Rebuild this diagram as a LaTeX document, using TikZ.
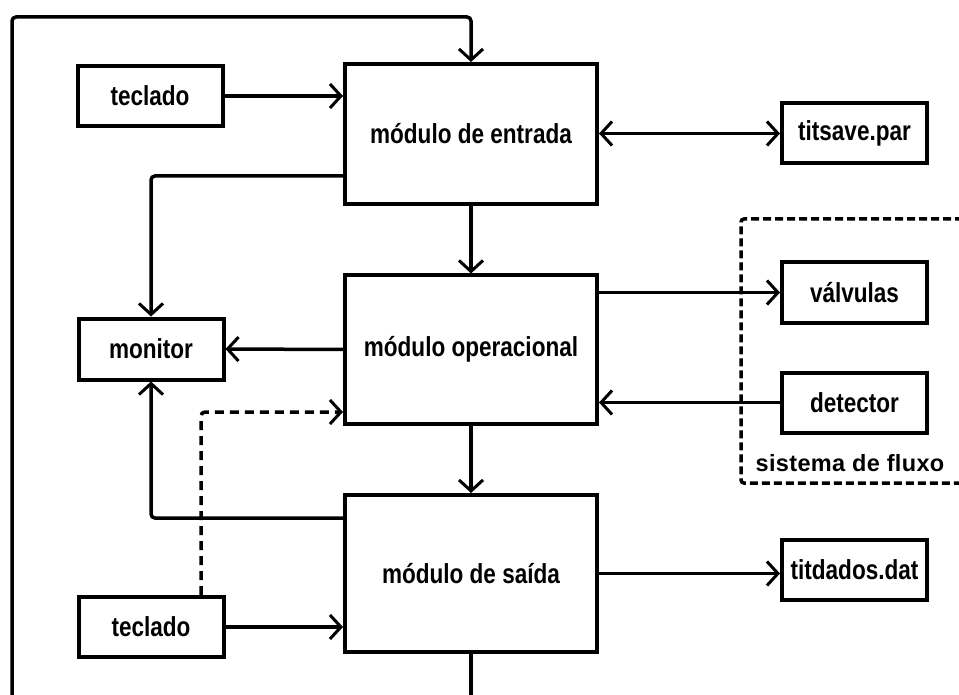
\documentclass[tikz,border=0pt]{standalone}
\usepackage{fontspec}
\setmainfont{Liberation Sans}
\newfontfamily\boxfont{Liberation Sans}[FakeStretch=0.82]
\newfontfamily\grpfont{Liberation Sans}[LetterSpace=1.5]
\usetikzlibrary{arrows.meta}
\begin{document}
\begin{tikzpicture}[x=1pt,y=-1pt,
  blk/.style={draw, line width=4pt, inner sep=0pt, font=\boxfont\bfseries\fontsize{27.5}{30}\selectfont},
  small/.style={blk, minimum width=145pt, minimum height=60pt},
  big/.style={blk, minimum width=252pt},
  conn/.style={line width=3.5pt},
  arr/.style={conn, -{Straight Barb[length=11pt,width=24pt,line width=3pt]}},
  darr/.style={conn, {Straight Barb[length=11pt,width=24pt,line width=3pt]}-{Straight Barb[length=11pt,width=24pt,line width=3pt]}},
  dsh/.style={line width=3.5pt, dash pattern=on 9pt off 6pt},
  grp/.style={line width=3.5pt, dash pattern=on 8pt off 4pt},
  lbl/.style={font=\grpfont\bfseries\fontsize{23.5}{26}\selectfont, inner sep=0pt},
]
\useasboundingbox (0,0) rectangle (959,695);

\node[small] (tec1) at (150,96) {teclado};
\node[big, minimum height=140pt] (ent) at (471,134) {módulo de entrada};
\node[small] (tsv) at (854.5,133.5) {titsave.par};
\node[big, minimum height=148pt] (op) at (471,349.5) {módulo operacional};
\node[small, minimum height=61pt] (mon) at (151,349) {monitor};
\node[small] (val) at (854.5,292.5) {válvulas};
\node[small] (det) at (854.5,402.5) {detector};
\node[big, minimum height=157pt] (sai) at (471,573.5) {módulo de saída};
\node[small] (tec2) at (151,627) {teclado};
\node[small] (tdd) at (854.5,569.5) {titdados.dat};

\coordinate (loopL) at (12,700);
\coordinate (topL) at (12,17);
\coordinate (loopB) at (471,700);

% feedback loop (cut by the lower edge)
\draw[arr, rounded corners=4pt] (loopL) -- (topL) -| (ent.north);
\draw[conn] (sai.south) -- (loopB);

\draw[arr] (tec1.east) -- (tec1.east -| ent.west);
\draw[darr] (ent.east |- tsv.west) -- (tsv.west);
\draw[arr, rounded corners=4pt] ([yshift=-42pt]ent.west) -| (mon.north);
\draw[arr] (ent.south) -- (op.north);
\draw[arr] (op.west) -- (mon.east);
\draw[arr] (op.east |- val.west) -- (val.west);
\draw[arr] (det.west) -- (det.west -| op.east);
\draw[arr] (op.south) -- (sai.north);
\draw[arr, rounded corners=4pt] ([yshift=55.5pt]sai.west) -| (mon.south);
\draw[arr] (tec2.east) -- (tec2.east -| sai.west);
\draw[arr] (sai.east) -- (sai.east -| tdd.west);
\draw[dsh, -{Straight Barb[length=11pt,width=24pt,line width=3pt]}, rounded corners=4pt]
  ([xshift=50pt]tec2.north) |- ([yshift=-62.5pt]op.west);

% flow system group
\draw[grp, rounded corners=3pt] (975,219) -- (741,219) -- (741,483) -- (975,483);
\node[lbl] (sf) at (850,463) {sistema de fluxo};
\end{tikzpicture}
\end{document}
